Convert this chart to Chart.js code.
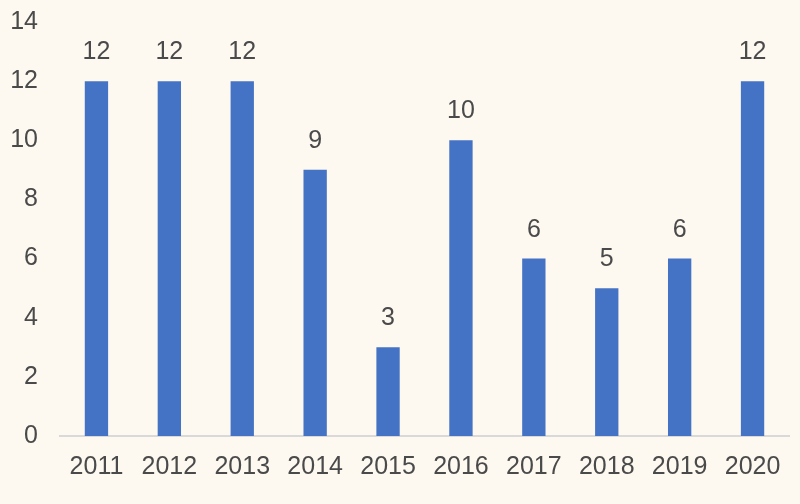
<!DOCTYPE html>
<html>
<head>
<meta charset="utf-8">
<script src="https://cdn.jsdelivr.net/npm/chart.js@4"></script>
<style>
  html, body { margin: 0; padding: 0; background: #fdf9f0; }
  #wrap { width: 800px; height: 504px; }
</style>
</head>
<body>
<div id="wrap"><canvas id="c" width="800" height="504"></canvas></div>
<script>
// 数据
const years = ['2011', '2012', '2013', '2014', '2015', '2016', '2017', '2018', '2019', '2020'];
const counts = [12, 12, 12, 9, 3, 10, 6, 5, 6, 12];
const yTicks = [0, 2, 4, 6, 8, 10, 12, 14];

const FONT = '"Liberation Sans", Arial, sans-serif';
const TEXT_COLOR = '#4a4a4a';

// 柱顶数值标签
const valueLabels = {
  id: 'valueLabels',
  afterDatasetsDraw(chart) {
    const ctx = chart.ctx;
    const meta = chart.getDatasetMeta(0);
    ctx.save();
    ctx.font = '25px ' + FONT;
    ctx.fillStyle = TEXT_COLOR;
    ctx.textAlign = 'center';
    ctx.textBaseline = 'alphabetic';
    meta.data.forEach(function (bar, i) {
      ctx.fillText(String(counts[i]), bar.x, bar.y - 22);
    });
    ctx.restore();
  }
};

new Chart(document.getElementById('c').getContext('2d'), {
  type: 'bar',
  data: {
    labels: years,
    datasets: [{
      data: counts,
      backgroundColor: '#4472c4',
      barPercentage: 0.32,
      categoryPercentage: 1
    }]
  },
  options: {
    responsive: false,
    animation: false,
    layout: { padding: { left: 8, right: 11, top: 22, bottom: 6 } },
    plugins: { legend: { display: false }, tooltip: { enabled: false } },
    scales: {
      x: {
        grid: { display: false, drawTicks: false },
        border: { color: '#d9d9d9', width: 2 },
        ticks: {
          color: TEXT_COLOR,
          padding: 16,
          maxRotation: 0,
          font: { family: FONT, size: 25 }
        }
      },
      y: {
        min: 0,
        max: 14,
        afterBuildTicks(axis) {
          axis.ticks = yTicks.map(function (v) { return { value: v }; });
        },
        afterFit(axis) {
          axis.width = 52;
          axis.paddingTop = 0;
          axis.paddingBottom = 0;
        },
        grid: { display: false, drawTicks: false },
        border: { display: false },
        ticks: {
          color: TEXT_COLOR,
          padding: 22,
          font: { family: FONT, size: 25 }
        }
      }
    }
  },
  plugins: [valueLabels]
});
</script>
</body>
</html>
